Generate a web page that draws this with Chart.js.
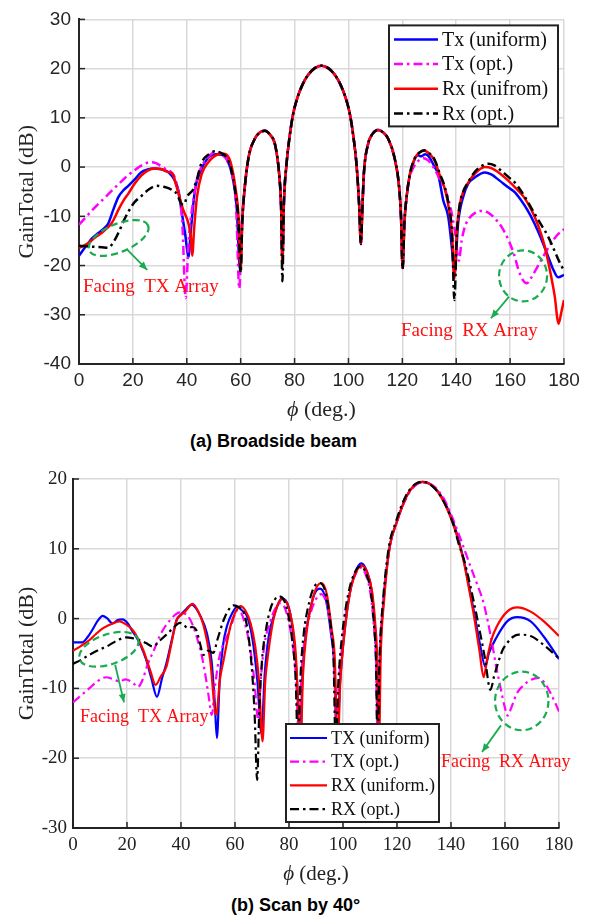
<!DOCTYPE html>
<html>
<head>
<meta charset="utf-8">
<script src="https://cdn.jsdelivr.net/npm/chart.js@4.4.1/dist/chart.umd.min.js"></script>
<style>
  body { margin: 0; background: #fff; }
  #page { position: relative; width: 593px; height: 916px; }
  .box { position: absolute; left: 0; }
  .cap { position: absolute; font: bold 18px "Liberation Sans", Arial, sans-serif; color: #000; white-space: nowrap; }
</style>
</head>
<body>
<div id="page">
  <div class="box" style="top:0px"><canvas id="chart-a" width="593" height="425"></canvas></div>
  <div class="cap" style="left:190px; top:431px">(a) Broadside beam</div>
  <div class="box" style="top:455px"><canvas id="chart-b" width="593" height="435"></canvas></div>
  <div class="cap" style="left:231px; top:895px">(b) Scan by 40°</div>
</div>
<script>
// ---- data: [phi (deg), gain (dB)] ----
// (a) broadside beam
const txUniformA = [[0,-18],[2,-16.5],[3.5,-15.4],[5,-14.4],[7.2,-13.4],[9,-12.6],[10.9,-11.4],[12.7,-8.7],[14.6,-6.1],[16.5,-4.7],[18.3,-3.8],[20.5,-2.6],[23,-1.1],[25.5,-0.5],[27.6,-0.3],[30,-0.4],[32.5,-0.8],[34.5,-1.8],[35.6,-2.8],[37,-5],[38,-8.7],[39.5,-14],[40.6,-18.3],[41.5,-13],[43,-4.8],[45,-1],[48,1.9],[51,2.6],[53,2.5],[55,1.5],[57,-2],[58.5,-8],[59.8,-21],
  [60.6,-11],[61.2,-6],[62.9,1.9],[65.3,5.8],[67,7],[69,7.4],[71,6.5],[72.8,4.5],[74.3,-1.5],[75,-8],[75.5,-19],[76,-8],[77,0.5],[78,5.5],[79.4,10.6],[81,14],[83,16.8],[85,18.7],[87.5,20.1],[90,20.6],[92.5,20.1],[95,18.7],[97,16.8],[99,14],[100.6,10.6],[102,5.5],[103,0.5],[104,-8],[104.6,-15.6],
  [105.2,-8],[105.7,-1.5],[107.2,4.5],[109,6.8],[111,7.6],[113,7],[114.7,5.8],[117.1,1.9],[118.8,-4],[119.5,-10],[120.1,-20.5],
  [120.8,-11],[121.6,-6],[122.8,-1.6],[124.5,1.5],[125.8,2.4],[127,2.2],[128.5,2.6],[130,2],[131.8,0.2],[133.3,-1.5],[135.2,-6.8],[137,-10],[138.5,-17],[139.3,-22],[140.7,-11.4],[142.6,-6],[144.4,-3.4],[146.9,-2.1],[150.6,-1.1],[153,-1.5],[156,-2.7],[159,-4],[161.7,-5.1],[164,-6.7],[166.5,-8.8],[169,-11.4],[171.5,-14.5],[174,-18],[176,-20.8],[177.8,-22.4],[180,-21.9]];
const txOptA = [[0,-11.7],[2.5,-10.2],[5,-8.7],[7.5,-7.3],[10,-6],[12.5,-4.6],[15,-3.3],[17.5,-2],[20,-0.9],[22.5,0.1],[24.5,0.7],[26.4,1],[28.5,0.8],[30.5,0.2],[32.5,-0.5],[34.4,-1.1],[35.6,-2.2],[37,-5.4],[38.3,-11],[39.6,-26.6],[40.4,-18],[41,-13],[42.5,-6.5],[44,-2],[46,0.6],[48,2.1],[50.5,3],[53,2.6],[55,1.3],[57,-2],[58.3,-8],[59.5,-24.7],
  [60.4,-11],[61.2,-6],[62.9,1.9],[65.3,5.8],[67,7],[69,7.4],[71,6.5],[72.8,4.5],[74.3,-1.5],[75,-8],[75.5,-19],[76,-8],[77,0.5],[78,5.5],[79.4,10.6],[81,14],[83,16.8],[85,18.7],[87.5,20.1],[90,20.6],[92.5,20.1],[95,18.7],[97,16.8],[99,14],[100.6,10.6],[102,5.5],[103,0.5],[104,-8],[104.6,-15.6],
  [105.2,-8],[105.7,-1.5],[107.2,4.5],[109,6.8],[111,7.5],[113,7],[114.7,5.8],[117.1,1.9],[118.8,-4],[119.5,-10],[120.1,-20.5],
  [120.8,-11],[121.6,-6],[122.8,-2],[124.7,0.5],[126.5,1.5],[127.8,1.8],[129.5,1.4],[131.5,0],[133.5,-2],[136.4,-5.4],[138,-8.5],[139.5,-13],[141,-19],[142,-15],[143,-12.5],[144.4,-10.7],[147,-9.3],[149.4,-8.9],[152,-9.3],[154.3,-10.4],[157,-12.3],[159.3,-14.7],[161.5,-17.8],[163,-20.7],[164.8,-23],[166.2,-23.6],[167.8,-22.5],[170.4,-20],[173,-17.5],[175.3,-15.4],[177.5,-13.8],[180,-12.6]];
const rxUniformA = [[0,-16.4],[2,-15.9],[4,-15.2],[6,-14.3],[8.4,-13.4],[10,-12.6],[12.1,-11.4],[13.5,-10],[14.6,-8.7],[16.5,-6.8],[18.3,-5.4],[20.5,-3.5],[23,-1.8],[25.5,-0.7],[28.2,-0.3],[30.5,-0.4],[32,-0.8],[33.8,-1.1],[35,-1.6],[35.6,-2.8],[37,-5.5],[38.7,-8.7],[40.6,-11.4],[41.5,-14],[42,-18],[42.8,-12],[43.8,-6],[45.5,-1.5],[48,1],[50,2.1],[51.7,2.6],[53.5,2.7],[54.8,2.5],[56.5,0.5],[58,-4],[59.2,-10],[60,-21],
  [60.6,-11],[61.2,-6],[62.9,1.9],[65.3,5.8],[67,7],[69,7.4],[71,6.5],[72.8,4.5],[74.3,-1.5],[75,-8],[75.5,-20],[76,-8],[77,0.5],[78,5.5],[79.4,10.6],[81,14],[83,16.8],[85,18.7],[87.5,20.1],[90,20.6],[92.5,20.1],[95,18.7],[97,16.8],[99,14],[100.6,10.6],[102,5.5],[103,0.5],[104,-8],[104.6,-15.6],
  [105.2,-8],[105.7,-1.5],[107.2,4.5],[109,6.8],[111,7.5],[113,7],[114.7,5.8],[117.1,1.9],[118.8,-4],[119.5,-10],[120.1,-20.5],
  [120.8,-11],[121.6,-6],[122.8,-1.4],[124.7,1.9],[126.5,3],[128.2,3.3],[130,2.7],[132,1.3],[134,-1.8],[135.8,-4.5],[137.3,-8.5],[138.5,-14],[139.3,-22.6],[140.2,-13],[141.2,-8],[142.6,-5],[144.4,-3.2],[147,-1.3],[150.6,0],[153,-0.2],[156,-1.2],[159,-2.6],[162,-4.2],[165,-6],[167.9,-8.7],[170.5,-12],[172.8,-16],[174.8,-21],[176.5,-26],[178,-31.8],[179,-29.5],[180,-27]];
const rxOptA = [[0,-16],[3,-16.1],[5.9,-16.2],[8.5,-16.3],[10.9,-16.4],[12.5,-15.5],[14.6,-13.4],[16.5,-11],[18.3,-9.1],[20.5,-7.2],[23.3,-5.8],[26,-4.5],[28.8,-3.8],[31.5,-4],[34.4,-4.6],[36.5,-5.6],[37.9,-7.4],[39,-7.6],[40,-6.1],[42.5,-4.4],[44,-2],[45.5,0.9],[48,2.5],[50.5,3.2],[53,2.8],[54.8,1.9],[56.5,-0.5],[58,-5],[59.2,-11],[60,-21.5],
  [60.6,-11],[61.2,-6],[62.9,1.9],[65.3,5.8],[67,7],[69,7.4],[71,6.5],[72.8,4.5],[74.3,-1.5],[75,-8],[75.5,-23.2],[76,-8],[77,0.5],[78,5.5],[79.4,10.6],[81,14],[83,16.8],[85,18.7],[87.5,20.1],[90,20.6],[92.5,20.1],[95,18.7],[97,16.8],[99,14],[100.6,10.6],[102,5.5],[103,0.5],[104,-8],[104.6,-15.6],
  [105.2,-8],[105.7,-1.5],[107.2,4.5],[109,6.8],[111,7.5],[113,7],[114.7,5.8],[117.1,1.9],[118.8,-4],[119.5,-10],[120.1,-20.7],
  [120.8,-11],[121.6,-6],[122.8,-1.4],[124.7,1.9],[126.5,3],[128.2,3.4],[130,2.8],[132,1.5],[134,-1.5],[135.8,-4.1],[137.3,-8],[138.5,-14],[139.3,-27],[140.2,-14],[141.2,-8],[142.6,-5],[144.4,-3.1],[147,-0.9],[150,0.4],[151.9,0.7],[154,0.4],[157,-0.9],[160,-2.3],[161.7,-3.1],[164,-4.8],[166.5,-7],[169,-9.4],[171.5,-11.7],[174,-14],[176.5,-17],[178.5,-19.5],[180,-21]];

// (b) scan by 40 deg
const txUniformB = [[0,-3.4],[3.5,-3.4],[5.5,-2.6],[7.2,-1.6],[9,-0.4],[11,0.4],[12.5,0.1],[14.7,-0.7],[16.5,-0.2],[18.4,-0.1],[20.3,-0.7],[22,-1.8],[23.4,-2.6],[25,-3.8],[27.1,-5.9],[29,-8.5],[31.1,-11.2],[33,-8.5],[34.6,-6.4],[36.5,-3.2],[38.4,-0.2],[40,0.6],[41.5,1.2],[44,2],[45.5,1.5],[47,0.5],[49.6,-2.1],[51.3,-6],[52.5,-12],[53.3,-17.1],[54.3,-9],[55.5,-4],[57,-1.1],[59,0.8],[60.8,1.7],[62.5,1.2],[64.5,0.3],[66.5,-3],[68.3,-9],[69.8,-16.5],[71,-8],[72.5,-2.5],[74.5,0.5],[77.5,2.9],[80,1.5],[81.8,-3],[83,-9],[84,-19],[85,-8],[86.3,-2],[87.8,1.2],[89.5,3.6],[91.5,4.3],[93.8,2.5],[95.5,-2],[96.8,-7],[97.8,-19],[98.8,-10],[100,-4],[101.3,0.5],[102.5,3.6],[104.5,6.6],[106.8,7.9],[108.8,6.8],[110.5,4.3],[111.7,-0.5],[112.4,-5.9],[113,-19],[113.7,-6],[115,2.5],[117.3,10.3],[119.8,13.7],[123.5,17.5],[126.6,19.1],[129.5,19.6],[133.5,18.9],[137.2,17],[140.9,13.7],[143,11],[144.7,8.4],[146.5,5],[148.4,1.2],[150.9,-4],[152.7,-6.9],[154,-5],[157,-2.6],[160.8,-0.4],[164.5,0.2],[169.5,-0.4],[174.4,-2.6],[180,-5.8]];
const txOptB = [[0,-12],[3,-11],[6,-10],[9,-9],[12.2,-8.4],[15,-8.7],[17.2,-9],[19.5,-8.7],[21,-8.9],[22.5,-9.3],[24,-9.8],[25.5,-9],[27.8,-6.4],[30,-4.5],[32,-2.6],[34,-1.2],[36,-0.2],[38,0.6],[39.6,0.9],[41,0.8],[42.7,0.3],[44.2,-0.8],[45.8,-2.6],[47.5,-5],[49,-8],[50.2,-11],[51.4,-13.8],[52.5,-10],[54,-5.9],[55.5,-3.8],[57,-2.6],[59,-0.5],[60.8,1.2],[62.3,0.8],[63.5,-0.5],[65.5,-4],[67.2,-9],[68.6,-14.5],[69.7,-8],[71,-3.5],[73,-0.5],[75,1.5],[76.8,2.2],[78.5,1.5],[80.2,-1],[81.8,-5],[82.8,-10],[83.6,-18],[84.6,-8],[86,-2.5],[88,0.8],[90,2.8],[92,3.5],[94,2],[95.5,-1.5],[96.7,-6],[97.6,-16],[98.5,-9],[99.8,-3.5],[101.2,1],[102.8,4.2],[104.8,6.5],[106.6,7.3],[108.5,6.2],[110.2,3.5],[111.4,-1],[112.2,-6],[112.9,-19],[113.6,-6],[114.9,2.2],[117.2,10],[119.8,13.7],[123.5,17.3],[126.6,19],[129.5,19.5],[133.5,19],[137.2,17.3],[140.9,14.1],[144.6,10.3],[147.1,7.6],[149.6,5],[152.1,2.2],[155.2,-3.5],[156.8,-7],[158.3,-9.8],[159.8,-12.5],[161,-13.9],[162.3,-12.8],[164.4,-10.7],[167,-9.5],[169.5,-8.8],[172.6,-8.5],[175,-9.4],[176.9,-10.7],[178.5,-12],[180,-13.3]];
const rxUniformB = [[0,-4.6],[3,-3.9],[6,-3.1],[8.5,-2.2],[11,-1.4],[14,-0.8],[17.2,-0.4],[19.5,-0.8],[22,-1.6],[24,-2.8],[26,-4.5],[28.5,-7.3],[30.6,-9.5],[32.5,-8.3],[34.6,-6.9],[36.5,-3.5],[38.4,-0.2],[40,0.5],[41.5,1],[44.3,2.1],[46,1.3],[48.3,-0.9],[50.8,-5.9],[53,-13.8],[54.5,-8.5],[55.8,-5.9],[58.3,-1.1],[60,0.8],[62,1.8],[63.8,1.2],[65.8,-0.7],[67.5,-4],[68.9,-9],[70.2,-17.6],[71.2,-9],[72,-5.9],[74.5,0.3],[77.6,2.8],[80.7,0.3],[82.5,-5],[83.2,-10.7],[84.2,-19],[85.2,-8],[86.5,-2],[88,1.5],[90,4.3],[92,5.1],[94,3.5],[95.8,-1.5],[97,-6],[98,-19],[99,-9],[100.3,-3],[101.5,1],[103,4.5],[105,6.8],[107,7.6],[109,6.6],[110.8,3.8],[112,-1],[112.7,-6],[113.3,-19],[114,-5],[115.2,2.5],[117.3,10.3],[119.8,13.7],[123.5,17.5],[126.6,19.2],[129.5,19.6],[133.5,18.9],[137.2,16.8],[140.9,13.4],[143,10.8],[144.7,8.2],[146.5,4.6],[148.4,0.6],[150.5,-4.5],[152.1,-8.4],[153.5,-5.5],[155,-3],[157,-1.1],[160.8,1],[164.5,1.6],[169.5,1],[174.4,-0.4],[180,-2.5]];
const rxOptB = [[0,-6.5],[3,-5.9],[6,-5.2],[9.5,-4.5],[13.4,-3.8],[16.5,-3.1],[19.7,-2.7],[22,-2.8],[24.7,-3.1],[27,-3.5],[29.6,-4],[32,-3.2],[34.6,-2.3],[37,-1.4],[39.6,-0.6],[41,-0.9],[42.7,-1.4],[44,-1.2],[45.6,-1.6],[47,-3.5],[48.3,-5.2],[50,-4.6],[52,-4.9],[53.5,-3],[55.8,-0.2],[57.5,1.2],[59.5,1.9],[61.5,1.6],[63.3,0.8],[65,-2.5],[66.4,-8],[67.3,-14],[68.2,-23.1],[69,-13],[70,-6],[71.5,-1.5],[73.2,1.5],[74.5,2.6],[76.3,3.2],[78.2,2.6],[80,0],[81.3,-3.5],[82.5,-9],[83.3,-19],[84.3,-8],[85.5,-2],[87,1.5],[89,4.3],[91.3,5.1],[93.5,3.8],[95.3,-0.5],[96.5,-6],[97.3,-19],[98.3,-9],[99.5,-3],[101,1.5],[102.5,4.5],[104.5,6.7],[106.5,7.5],[108.5,6.5],[110.3,3.8],[111.5,-1],[112.2,-6],[112.8,-19],[113.5,-6],[114.8,2.5],[117,10.3],[119.6,13.9],[123.3,17.6],[126.5,19.2],[129.3,19.6],[133.3,18.9],[137,17],[140.7,13.7],[143,10.5],[144.7,8.6],[146.5,5.8],[148.4,2.5],[150.5,-1.5],[152.5,-5.5],[154.6,-10.2],[156,-8.2],[157,-6.9],[159,-4.6],[160.8,-3.5],[163,-2.6],[165.1,-2.3],[169.5,-2.5],[174.4,-3.8],[180,-5.7]];

const SERIF = "'Liberation Serif', 'Times New Roman', serif";
const SANS = "'Liberation Sans', Arial, sans-serif";
const DASHDOT = [9, 4, 2.5, 4];
const GREEN = "#1aab50";

// order: lower value is drawn on top, so the black line ends up above the rest
function series(label, pts, color, dash, width, order) {
  return {
    label: label,
    data: pts.map(p => ({ x: p[0], y: p[1] })),
    borderColor: color,
    backgroundColor: color,
    borderWidth: width,
    borderDash: dash,
    pointRadius: 0,
    cubicInterpolationMode: "monotone",
    fill: false,
    order: order,
  };
}

function arrow(ctx, x0, y0, x1, y1) {
  ctx.beginPath(); ctx.moveTo(x0, y0); ctx.lineTo(x1, y1); ctx.stroke();
  const a = Math.atan2(y1 - y0, x1 - x0);
  ctx.beginPath();
  ctx.moveTo(x1, y1);
  ctx.lineTo(x1 - 9 * Math.cos(a - 0.4), y1 - 9 * Math.sin(a - 0.4));
  ctx.lineTo(x1 - 9 * Math.cos(a + 0.4), y1 - 9 * Math.sin(a + 0.4));
  ctx.closePath(); ctx.fill();
}

// annotations, inward ticks, legend and x title drawn over the data
const extras = {
  id: "extras",
  afterDatasetsDraw(chart, args, opts) {
    const ctx = chart.ctx;
    const xs = chart.scales.x, ys = chart.scales.y;
    const area = chart.chartArea;
    const px = v => xs.getPixelForValue(v), py = v => ys.getPixelForValue(v);
    ctx.save();

    // inward ticks like matlab
    ctx.strokeStyle = opts.axisColor; ctx.lineWidth = 1.5;
    xs.ticks.forEach(t => { ctx.beginPath(); ctx.moveTo(px(t.value), area.bottom); ctx.lineTo(px(t.value), area.bottom - 6); ctx.stroke(); });
    ys.ticks.forEach(t => { ctx.beginPath(); ctx.moveTo(area.left, py(t.value)); ctx.lineTo(area.left + 6, py(t.value)); ctx.stroke(); });

    // green ellipses + arrows
    ctx.strokeStyle = GREEN; ctx.fillStyle = GREEN;
    opts.ellipses.forEach(e => {
      ctx.lineWidth = 2.2; ctx.setLineDash([7, 4]);
      ctx.beginPath(); ctx.ellipse(px(e.phi), py(e.db), e.rx, e.ry, e.rot, 0, Math.PI * 2); ctx.stroke();
      ctx.setLineDash([]); ctx.lineWidth = 1.8;
      arrow(ctx, px(e.from[0]), py(e.from[1]), px(e.to[0]), py(e.to[1]));
    });

    // red notes
    ctx.fillStyle = "#ff1010"; ctx.font = opts.noteFont;
    ctx.textAlign = "left"; ctx.textBaseline = "middle";
    opts.notes.forEach(n => ctx.fillText(n.text, px(n.phi), py(n.db)));

    // legend box
    const L = opts.legend;
    const x0 = L.right ? area.right - L.dx - L.w : area.left + L.dx;
    const y0 = L.right ? area.top + L.dy : area.bottom - L.dy - L.h;
    ctx.fillStyle = "#fff"; ctx.fillRect(x0, y0, L.w, L.h);
    ctx.strokeStyle = "#222"; ctx.lineWidth = 2; ctx.strokeRect(x0, y0, L.w, L.h);
    ctx.font = L.font;
    chart.data.datasets.forEach((ds, i) => {
      const y = y0 + L.first + i * L.step;
      ctx.strokeStyle = ds.borderColor; ctx.lineWidth = ds.borderWidth;
      ctx.setLineDash(ds.borderDash || []);
      ctx.beginPath(); ctx.moveTo(x0 + L.lx0, y); ctx.lineTo(x0 + L.lx1, y); ctx.stroke();
      ctx.setLineDash([]);
      ctx.fillStyle = "#111"; ctx.fillText(ds.label, x0 + L.tx, y + 1);
    });

    // x title with italic phi
    ctx.fillStyle = opts.axisColor; ctx.textBaseline = "middle";
    const cx = (area.left + area.right) / 2, ty = area.bottom + opts.xTitleDy;
    ctx.font = "italic " + opts.xTitleSize + "px " + SERIF;
    const w1 = ctx.measureText("\u03D5").width;
    ctx.font = opts.xTitleSize + "px " + SERIF;
    const w2 = ctx.measureText(" (deg.)").width;
    const sx = cx - (w1 + w2) / 2;
    ctx.font = "italic " + opts.xTitleSize + "px " + SERIF;
    ctx.fillText("\u03D5", sx, ty);
    ctx.font = opts.xTitleSize + "px " + SERIF;
    ctx.fillText(" (deg.)", sx + w1, ty);
    ctx.restore();
  },
};

function makeChart(id, sets, cfg) {
  return new Chart(document.getElementById(id), {
    type: "line",
    data: { datasets: sets },
    plugins: [extras],
    options: {
      responsive: false,
      animation: false,
      devicePixelRatio: 1,
      layout: { padding: cfg.padding },
      plugins: { legend: { display: false }, tooltip: { enabled: false }, extras: cfg.extras },
      scales: {
        x: {
          type: "linear", min: 0, max: 180,
          ticks: { stepSize: 20, color: cfg.axisColor, font: cfg.tickFont, padding: cfg.xPad, maxRotation: 0 },
          grid: { color: "#d9d9d9", lineWidth: 1.5, drawTicks: false },
          border: { color: cfg.axisColor, width: 2 },
          afterFit: s => { s.height = cfg.xHeight; },
        },
        y: {
          type: "linear", min: cfg.yMin, max: cfg.yMax,
          ticks: { stepSize: 10, color: cfg.axisColor, font: cfg.tickFont, padding: cfg.yPad },
          grid: { color: "#d9d9d9", lineWidth: 1.5, drawTicks: false },
          border: { color: cfg.axisColor, width: 2 },
          title: { display: true, text: "GainTotal (dB)", color: cfg.axisColor, font: { family: SERIF, size: 22 }, padding: { top: 14, bottom: 0 } },
          afterFit: s => { s.width = cfg.yWidth; },
        },
      },
    },
  });
}

makeChart("chart-a", [
  series("Tx (uniform)", txUniformA, "#0000ff", [], 2.5, 4),
  series("Tx (opt.)", txOptA, "#ff00ff", DASHDOT, 2.5, 3),
  series("Rx (unifrom)", rxUniformA, "#ff0000", [], 2.5, 2),
  series("Rx (opt.)", rxOptA, "#000000", DASHDOT, 2.5, 1),
], {
  padding: { left: 0, top: 13, right: 29, bottom: 0 },
  yMin: -40, yMax: 30, yWidth: 79, xHeight: 61, xPad: 5, yPad: 8,
  axisColor: "#262626",
  tickFont: { family: SANS, size: 19 },
  extras: {
    axisColor: "#262626", xTitleDy: 46, xTitleSize: 22,
    noteFont: "19px " + SERIF,
    ellipses: [
      { phi: 14.7, db: -14.4, rx: 32, ry: 14, rot: -0.4, from: [17.8, -16.7], to: [25.3, -20.9] },
      { phi: 164.8, db: -22.1, rx: 24, ry: 25.5, rot: 0, from: [159.6, -26.3], to: [152.9, -30.7] },
    ],
    notes: [
      { text: "Facing  TX Array", phi: 1.5, db: -24.3 },
      { text: "Facing  RX Array", phi: 119.5, db: -33.3 },
    ],
    legend: { right: true, dx: 6, dy: 6, w: 169, h: 101, first: 14, step: 24.7, lx0: 5, lx1: 49, tx: 53, font: "20px " + SERIF },
  },
});

makeChart("chart-b", [
  series("TX (uniform)", txUniformB, "#0000ff", [], 2.2, 4),
  series("TX (opt.)", txOptB, "#ff00ff", DASHDOT, 2.2, 3),
  series("RX (uniform.)", rxUniformB, "#ff0000", [], 2.2, 2),
  series("RX (opt.)", rxOptB, "#000000", DASHDOT, 2.2, 1),
], {
  padding: { left: 0, top: 24, right: 34, bottom: 0 },
  yMin: -30, yMax: 20, yWidth: 73, xHeight: 62, xPad: 6, yPad: 6,
  axisColor: "#222",
  tickFont: { family: SERIF, size: 19 },
  extras: {
    axisColor: "#222", xTitleDy: 46, xTitleSize: 21,
    noteFont: "18px " + SERIF,
    ellipses: [
      { phi: 13.3, db: -4.4, rx: 31, ry: 15, rot: -0.33, from: [15.6, -6.6], to: [18.9, -12] },
      { phi: 166.2, db: -11.8, rx: 26.7, ry: 29.3, rot: 0, from: [158.5, -15.3], to: [151.5, -19.1] },
    ],
    notes: [
      { text: "Facing  TX Array", phi: 2.6, db: -14.1 },
      { text: "Facing  RX Array", phi: 136.3, db: -20.6 },
    ],
    legend: { right: false, dx: 213, dy: 6, w: 153, h: 98, first: 14, step: 23.7, lx0: 4, lx1: 41, tx: 45, font: "18px " + SERIF },
  },
});
</script>
</body>
</html>
